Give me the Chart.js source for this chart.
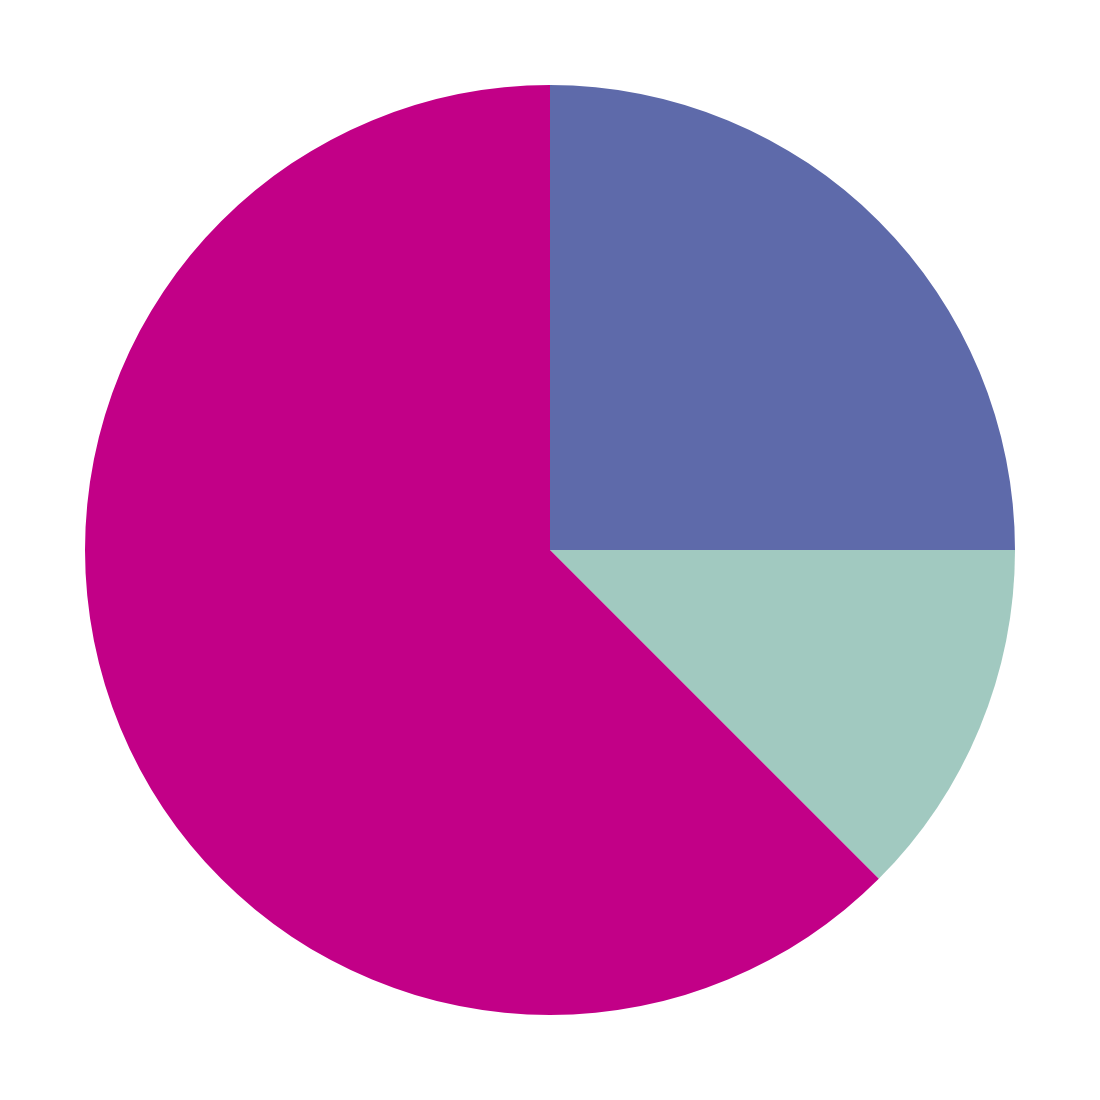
<!DOCTYPE html>
<html>
<head>
<meta charset="utf-8">
<script src="https://cdn.jsdelivr.net/npm/chart.js@4"></script>
<style>
  html, body { margin: 0; padding: 0; background: #fff; }
  #wrap { width: 1100px; height: 1100px; }
</style>
</head>
<body>
<div id="wrap"><canvas id="pie"></canvas></div>
<script>
// slice data, clockwise from 12 o'clock
const labels = ['A', 'B', 'C'];
const values = [25, 12.5, 62.5];
const colors = ['#5E6AAA', '#A1C9C0', '#C20087'];

const ctx = document.getElementById('pie').getContext('2d');
const pieChart = new Chart(ctx, {
    type: 'pie',
    data: {
        labels,
        datasets: [{
            data: values,
            backgroundColor: colors,
            borderWidth: 0
        }]
    },
    options: {
        responsive: true,
        maintainAspectRatio: false,
        animation: false,
        layout: { padding: 85 },
        plugins: {
            legend: { display: false },
            tooltip: { enabled: false }
        }
    }
});
</script>
</body>
</html>
